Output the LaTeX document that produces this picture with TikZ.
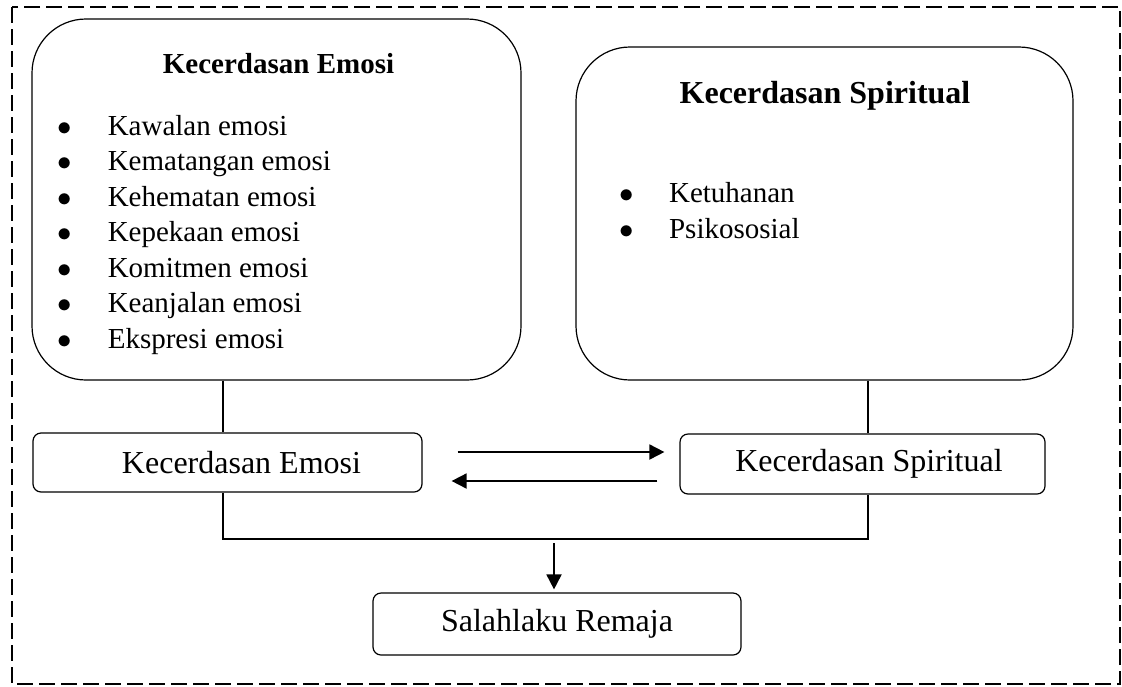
\documentclass[tikz,border=0pt]{standalone}
\usepackage{fontspec}
\setmainfont{Liberation Serif}
\usetikzlibrary{arrows.meta, positioning, calc}
\newcommand{\itm}[1]{\makebox[25pt][l]{$\bullet$}#1}

\begin{document}
\begin{tikzpicture}[
    x=0.5pt, y=-0.5pt,
    bigbox/.style={draw, line width=0.6pt, rounded corners=27pt, inner sep=0pt},
    smallbox/.style={draw, line width=0.6pt, rounded corners=4pt, inner sep=0pt, font=\fontsize{16}{19}\selectfont},
    ttl/.style={anchor=base, inner sep=0pt},
    item/.style={anchor=base west, inner sep=0pt, font=\fontsize{14.5}{17}\selectfont},
    arr/.style={-{Triangle[length=7.5pt, width=7.5pt]}, line width=0.9pt},
    link/.style={line width=0.6pt},
]
\useasboundingbox (0,0) rectangle (1122,686);

% outer frame
\draw[line width=0.6pt, dash pattern=on 8pt off 3pt] (12,7) rectangle (1120,684);

% emotional intelligence
\node[bigbox, minimum width=244.5pt, minimum height=180.5pt] (emobig) at (276.5,199.5) {};
\node[ttl, font=\fontsize{14.5}{17}\selectfont\bfseries] (emottl) at (278.5,73) {Kecerdasan Emosi};
\foreach \t [count=\i from 0] in {Kawalan emosi, Kematangan emosi, Kehematan emosi,
    Kepekaan emosi, Komitmen emosi, Keanjalan emosi, Ekspresi emosi}
  \node[item] (e\i) at (57.4,{135+35.5*\i}) {\itm{\t}};

% spiritual intelligence
\node[bigbox, minimum width=248.5pt, minimum height=166.5pt] (spibig) at (824.5,213.5) {};
\node[ttl, font=\fontsize{16}{19}\selectfont\bfseries] (spittl) at (825,103) {Kecerdasan Spiritual};
\node[item] (s0) at (618.7,202) {\itm{Ketuhanan}};
\node[item] (s1) at (618.7,238) {\itm{Psikososial}};

% lower row
\node[smallbox, minimum width=194.5pt, minimum height=29.5pt] (emosm) at (227.5,462.5) {\hspace*{14pt}Kecerdasan Emosi};
\node[smallbox, minimum width=182.5pt, minimum height=30pt] (spism) at (862.5,464) {\hspace*{6.5pt}Kecerdasan Spiritual};
\node[smallbox, minimum width=184pt, minimum height=31pt] (salah) at (557,624) {Salahlaku Remaja};

% links
\coordinate (jl) at (223,539);
\coordinate (jr) at (868,539);
\coordinate (jm) at (554,539);
\draw[link] (emobig.south -| jl) -- (emosm.north -| jl);
\draw[link] (spibig.south -| jr) -- (spism.north -| jr);
\draw[link] (emosm.south -| jl) -- (jl) -- (jr) -- (spism.south -| jr);

\draw[arr] ([xshift=17.5pt, yshift=5.25pt]emosm.east) -- ([xshift=-7.5pt, yshift=6pt]spism.west);
\draw[arr] ([xshift=-11pt, yshift=-8.5pt]spism.west) -- ([xshift=14.5pt, yshift=-9.25pt]emosm.east);
\draw[arr, shorten >=1.5pt] ([yshift=-2pt]jm) -- (jm |- salah.north);

\end{tikzpicture}
\end{document}
